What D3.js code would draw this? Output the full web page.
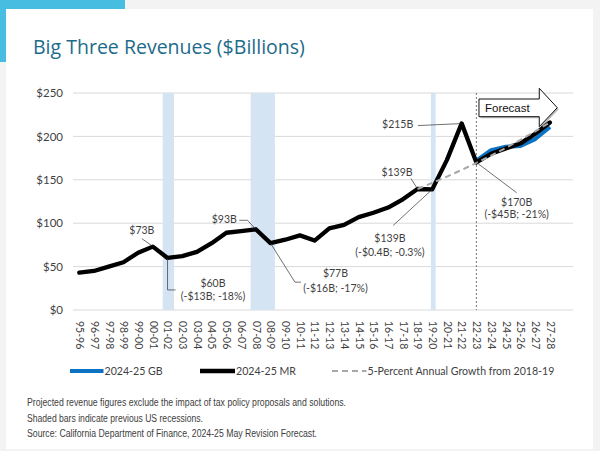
<!DOCTYPE html>
<html><head><meta charset="utf-8">
<script src="https://cdn.jsdelivr.net/npm/d3@7"></script>
<style>body{margin:0;background:#f3f3f3;} svg{display:block}</style>
</head><body>
<svg id="c" width="600" height="451"></svg>
<script>
// ---------- DATA ----------
const categories = ["95-96","96-97","97-98","98-99","99-00","00-01","01-02","02-03","03-04","04-05","05-06","06-07","07-08","08-09","09-10","10-11","11-12","12-13","13-14","14-15","15-16","16-17","17-18","18-19","19-20","20-21","21-22","22-23","23-24","24-25","25-26","26-27","27-28"];
const mrValues = [43,45,50,55,66,73,60,62,67,77,89,91,93,77,81,86,80,94,98,107,112,118,127.5,139.4,139,173,215,170,180,186,192,203,216];
const gbCategories = ["22-23","23-24","24-25","25-26","26-27","27-28"];
const gbValues = [172,184,188,189,197,211];
const growthCategories = ["18-19","19-20","20-21","21-22","22-23","23-24","24-25","25-26","26-27","27-28"];
const growthValues = [139.4,146.4,153.7,161.4,169.4,177.9,186.8,196.1,205.9,216.2];
const yTicks = [0,50,100,150,200,250];
const yTickLabels = ["$0","$50","$100","$150","$200","$250"];
// recession spans, in category-index units
const recessionStart = [5.67,11.65,23.91];
const recessionEnd = [6.44,13.30,24.23];
const forecastStart = "22-23";
const seriesNames = ["2024-25 GB","2024-25 MR","5-Percent Annual Growth from 2018-19"];
const annotationCats = ["00-01","01-02","07-08","08-09","18-19","19-20","21-22","22-23"];
const annotationText = [["$73B"],["$60B","(-$13B; -18%)"],["$93B"],["$77B","(-$16B; -17%)"],["$139B"],["$139B","(-$0.4B; -0.3%)"],["$215B"],["$170B","(-$45B; -21%)"]];
const notes = ["Projected revenue figures exclude the impact of tax policy proposals and solutions.","Shaded bars indicate previous US recessions.","Source: California Department of Finance, 2024-25 May Revision Forecast."];

// ---------- LAYOUT ----------
const svg = d3.select("#c");
const x = d3.scalePoint().domain(categories).range([79.3, 549.9]);
const xi = d3.scaleLinear().domain([0, categories.length-1]).range([79.3, 549.9]);
const y = d3.scaleLinear().domain([0,250]).range([310, 93]);
const gridL = 73, gridR = 573;
const txtFont = "Lato, 'Noto Sans', sans-serif";
const txtCol = "#3f3f3f";

// background card
svg.append("rect").attr("x",0).attr("y",0).attr("width",125).attr("height",62).attr("fill","#48bde2");
svg.append("rect").attr("x",6).attr("y",9).attr("width",587).attr("height",440).attr("fill","#fff");

// title
const title = svg.append("text").attr("x",33).attr("y",54).attr("fill","#1d6b8a")
  .attr("font-family","'Open Sans', sans-serif").attr("font-size",20)
  .text("Big Three Revenues ($Billions)");
const tw = title.node().getComputedTextLength();
title.attr("font-size", 20*272/tw);

// gridlines
svg.append("g").selectAll("line").data(yTicks).join("line")
  .attr("x1",gridL).attr("x2",gridR).attr("y1",d=>y(d)).attr("y2",d=>y(d))
  .attr("stroke","#d9d9d9").attr("stroke-width",1);

// recession bars
svg.append("g").selectAll("rect").data(recessionStart).join("rect")
  .attr("x",d=>xi(d)).attr("width",(d,i)=>xi(recessionEnd[i])-xi(d))
  .attr("y",y(250)).attr("height",y(0)-y(250)).attr("fill","#d5e4f3");

// y axis labels
const yAxis = d3.axisLeft(y).tickValues(yTicks).tickFormat((d,i)=>yTickLabels[i]).tickSize(0).tickPadding(0);
const ga = svg.append("g").attr("transform",`translate(63,0)`).call(yAxis);
ga.select(".domain").remove();
ga.selectAll("text").attr("font-family",txtFont).attr("font-size",11.5).attr("fill",txtCol);

// x axis labels
const xAxis = d3.axisBottom(x).tickSize(0).tickPadding(0);
const gx = svg.append("g").attr("transform",`translate(0,321)`).call(xAxis);
gx.select(".domain").remove();
gx.selectAll("text").attr("font-family",txtFont).attr("font-size",10.5).attr("fill",txtCol)
  .attr("transform","rotate(90)").attr("text-anchor","start").attr("dy","0.35em").attr("y",0).attr("x",0);

// forecast dotted line
svg.append("line").attr("x1",x(forecastStart)).attr("x2",x(forecastStart))
  .attr("y1",y(250)).attr("y2",y(0)).attr("stroke","#555").attr("stroke-width",0.8).attr("stroke-dasharray","2,2");

// forecast arrow
const fx = x(forecastStart)+2.6;
const arrowPts = [[fx,99],[fx+60.3,99],[fx+60.3,88.3],[fx+78.3,107.7],[fx+60.3,126.7],[fx+60.3,116.7],[fx,116.7]];
svg.append("path").attr("d","M"+arrowPts.map(p=>[p[0]+1.5,p[1]+1.5].join(",")).join("L")+"Z").attr("fill","#bbb");
svg.append("path").attr("d","M"+arrowPts.map(p=>p.join(",")).join("L")+"Z").attr("fill","#fff").attr("stroke","#111").attr("stroke-width",1);
svg.append("text").attr("x",fx+6).attr("y",111.7).attr("font-family","'Liberation Sans', Arial, sans-serif").attr("font-size",11.5).attr("fill","#111").text("Forecast");

// lines
const line = d3.line().x(d=>x(d[0])).y(d=>y(d[1]));
svg.append("path").datum(gbCategories.map((c,i)=>[c,gbValues[i]])).attr("d",line)
  .attr("fill","none").attr("stroke","#0b72c4").attr("stroke-width",4.2).attr("stroke-linejoin","round");
svg.append("path").datum(categories.map((c,i)=>[c,mrValues[i]])).attr("d",line)
  .attr("fill","none").attr("stroke","#000").attr("stroke-width",4.3).attr("stroke-linejoin","round").attr("stroke-linecap","round");
svg.append("path").datum(growthCategories.map((c,i)=>[c,growthValues[i]])).attr("d",line)
  .attr("fill","none").attr("stroke","#a8a8a8").attr("stroke-width",2).attr("stroke-dasharray","6,4");

// annotations: leader (relative to data point) and text placement
const leaders = [
  [[-11,-8],[-1,-1]],
  [[0,0],[0,32],[8,32]],
  [[-16.5,-9],[-8.3,-9],[0,0]],
  [[0,0],[24.5,39],[30.5,39]],
  [[-6.6,-10.5],[-0.6,-1]],
  [[0,0],[-39,36]],
  [[-43.7,2.2],[-0.7,0.2]],
  [[0,0],[40.3,30.3]]
];
const textPos = [[-11,-12.6,"middle"],[45.4,29,"middle"],[-19,-6,"end"],[65,33.6,"middle"],[-5,-13.3,"end"],[-42.3,53,"middle"],[-48.4,5,"end"],[40.3,43.6,"middle"]];
const lineGap = [0,13,0,15,0,13.7,0,12.3];
annotationCats.forEach((c,i)=>{
  const v = mrValues[categories.indexOf(c)];
  const px = x(c), py = y(v);
  svg.append("path").attr("d","M"+leaders[i].map(p=>[px+p[0],py+p[1]].join(",")).join("L"))
    .attr("fill","none").attr("stroke","#333").attr("stroke-width",0.7);
  annotationText[i].forEach((t,j)=>{
    svg.append("text").attr("x",px+textPos[i][0]).attr("y",py+textPos[i][1]+j*lineGap[i])
      .attr("text-anchor",textPos[i][2]).attr("font-family",txtFont).attr("font-size",10.5).attr("fill",txtCol).text(t);
  });
});

// legend
const legY = 371;
const lg = svg.append("g");
const legX = [[70,103.5],[200,235],[332,366.5]];
const legStyle = [{s:"#0b72c4",w:4,d:null},{s:"#000",w:4.5,d:null},{s:"#a8a8a8",w:2,d:"6,4"}];
seriesNames.forEach((n,i)=>{
  lg.append("line").attr("x1",legX[i][0]).attr("x2",legX[i][1]).attr("y1",legY).attr("y2",legY)
    .attr("stroke",legStyle[i].s).attr("stroke-width",legStyle[i].w).attr("stroke-dasharray",legStyle[i].d);
  lg.append("text").attr("x",legX[i][1]+1).attr("y",legY+4).attr("font-family",txtFont).attr("font-size",10.6).attr("fill",txtCol).text(n);
});

// notes
const noteW = [319,176,290];
notes.forEach((t,i)=>{
  svg.append("text").attr("x",27).attr("y",406.4+i*15.3).attr("font-family","'Liberation Sans Narrow','Liberation Sans', Arial, sans-serif")
    .attr("font-size",10).attr("fill","#404040").attr("textLength",noteW[i]).attr("lengthAdjust","spacingAndGlyphs").text(t);
});
</script>
</body></html>
